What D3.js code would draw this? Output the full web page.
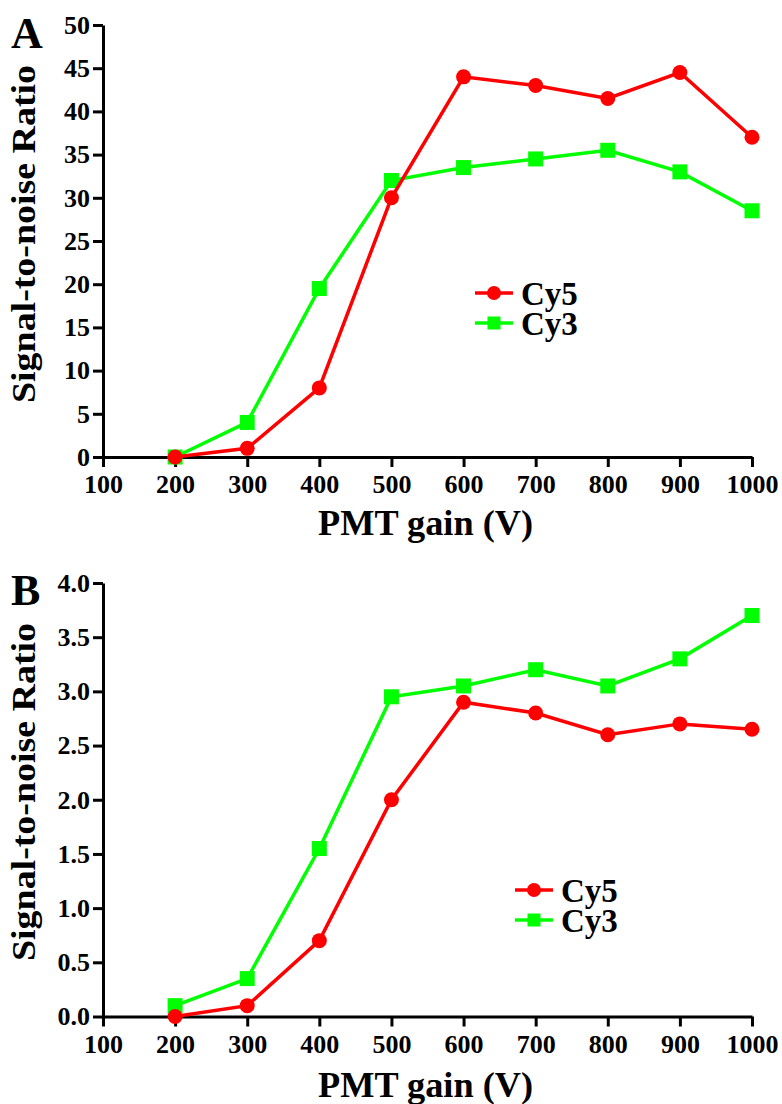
<!DOCTYPE html>
<html>
<head>
<meta charset="utf-8">
<script src="https://cdn.jsdelivr.net/npm/d3@7"></script>
<style>
  body { margin: 0; background: #fff; }
  .axis path, .axis line { stroke: #000; stroke-width: 3; }
</style>
</head>
<body>
<svg id="chart" width="782" height="1104"></svg>
<script>
// PMT gain (V)
var gains = [200, 300, 400, 500, 600, 700, 800, 900, 1000];
var xTicks = [100, 200, 300, 400, 500, 600, 700, 800, 900, 1000];

// panel A values
var cy5A = [0, 1, 8, 30, 44, 43, 41.5, 44.5, 37];
var cy3A = [0, 4, 19.5, 32, 33.5, 34.5, 35.5, 33, 28.5];
var yTicksA = [0, 5, 10, 15, 20, 25, 30, 35, 40, 45, 50];

// panel B values
var cy5B = [0, 0.1, 0.7, 2.0, 2.9, 2.8, 2.6, 2.7, 2.65];
var cy3B = [0.1, 0.35, 1.55, 2.95, 3.05, 3.2, 3.05, 3.3, 3.7];
var yTicksB = [0, 0.5, 1.0, 1.5, 2.0, 2.5, 3.0, 3.5, 4.0];

var seriesNames = ["Cy5", "Cy3"];
var colors = { Cy5: "#ff0000", Cy3: "#00ff00" };

var serif = "'Liberation Serif', 'Times New Roman', Times, 'DejaVu Serif', serif";

var svg = d3.select("#chart");

// bold serif text everywhere, like the original figure
function bold(sel, size) {
    return sel.style("font-family", serif)
        .style("font-weight", "bold")
        .style("font-size", size + "px")
        .attr("fill", "#000");
}

function drawPanel(opt) {
    var x = d3.scaleLinear().domain([100, 1000]).range([103, 752]);
    var y = d3.scaleLinear().domain(opt.yDomain).range([opt.bottom, opt.top]);

    var g = svg.append("g");

    // axes
    var xa = g.append("g")
        .attr("class", "axis")
        .attr("transform", "translate(0," + opt.bottom + ")")
        .call(d3.axisBottom(x).tickValues(xTicks).tickSize(10).tickSizeOuter(0).tickPadding(8).tickFormat(d3.format("d")));
    bold(xa.selectAll("text"), 26);

    var ya = g.append("g")
        .attr("class", "axis")
        .attr("transform", "translate(103,0)")
        .call(d3.axisLeft(y).tickValues(opt.yTicks).tickSize(10).tickSizeOuter(0).tickPadding(3).tickFormat(opt.fmt));
    bold(ya.selectAll("text"), 26);

    var line = d3.line()
        .x(function (d, i) { return x(gains[i]); })
        .y(function (d) { return y(d); });

    // Cy3 (green squares) below, Cy5 (red circles) on top
    g.append("path")
        .datum(opt.cy3)
        .attr("d", line)
        .attr("fill", "none")
        .attr("stroke", colors.Cy3)
        .attr("stroke-width", 3.5);
    g.append("g").selectAll("rect")
        .data(opt.cy3)
        .join("rect")
        .attr("x", function (d, i) { return x(gains[i]) - 7.5; })
        .attr("y", function (d) { return y(d) - 7.5; })
        .attr("width", 15)
        .attr("height", 15)
        .attr("fill", colors.Cy3);

    g.append("path")
        .datum(opt.cy5)
        .attr("d", line)
        .attr("fill", "none")
        .attr("stroke", colors.Cy5)
        .attr("stroke-width", 3.5);
    g.append("g").selectAll("circle")
        .data(opt.cy5)
        .join("circle")
        .attr("cx", function (d, i) { return x(gains[i]); })
        .attr("cy", function (d) { return y(d); })
        .attr("r", 7.5)
        .attr("fill", colors.Cy5);

    // legend
    var leg = g.append("g");
    seriesNames.forEach(function (name, i) {
        var ly = opt.legY + i * 30;
        leg.append("line")
            .attr("x1", opt.legX).attr("x2", opt.legX + 38)
            .attr("y1", ly).attr("y2", ly)
            .attr("stroke", colors[name]).attr("stroke-width", 3.5);
        if (name === "Cy5") {
            leg.append("circle").attr("cx", opt.legX + 19).attr("cy", ly).attr("r", 7).attr("fill", colors[name]);
        } else {
            leg.append("rect").attr("x", opt.legX + 12.5).attr("y", ly - 6.5).attr("width", 13).attr("height", 13).attr("fill", colors[name]);
        }
        bold(leg.append("text"), 33)
            .attr("x", opt.legX + 46)
            .attr("y", ly + 12)
            .text(name);
    });

    // axis titles
    bold(g.append("text"), 34)
        .attr("transform", "translate(35," + opt.yTitleY + ") rotate(-90)")
        .attr("text-anchor", "middle")
        .attr("textLength", 338)
        .attr("lengthAdjust", "spacingAndGlyphs")
        .text("Signal-to-noise Ratio");

    bold(g.append("text"), 35)
        .attr("x", 318)
        .attr("y", opt.xTitleY)
        .attr("textLength", 215)
        .attr("lengthAdjust", "spacingAndGlyphs")
        .text("PMT gain (V)");

    // panel letter
    bold(g.append("text"), 44)
        .attr("x", 11)
        .attr("y", opt.labelY)
        .text(opt.label);
}

drawPanel({
    label: "A", labelY: 48,
    top: 25, bottom: 457, yDomain: [0, 50], yTicks: yTicksA, fmt: d3.format("d"),
    cy5: cy5A, cy3: cy3A,
    legX: 475, legY: 293,
    yTitleY: 234, xTitleY: 535
});

drawPanel({
    label: "B", labelY: 605,
    top: 583, bottom: 1016.5, yDomain: [0, 4], yTicks: yTicksB, fmt: d3.format(".1f"),
    cy5: cy5B, cy3: cy3B,
    legX: 515, legY: 890,
    yTitleY: 792, xTitleY: 1097
});
</script>
</body>
</html>
